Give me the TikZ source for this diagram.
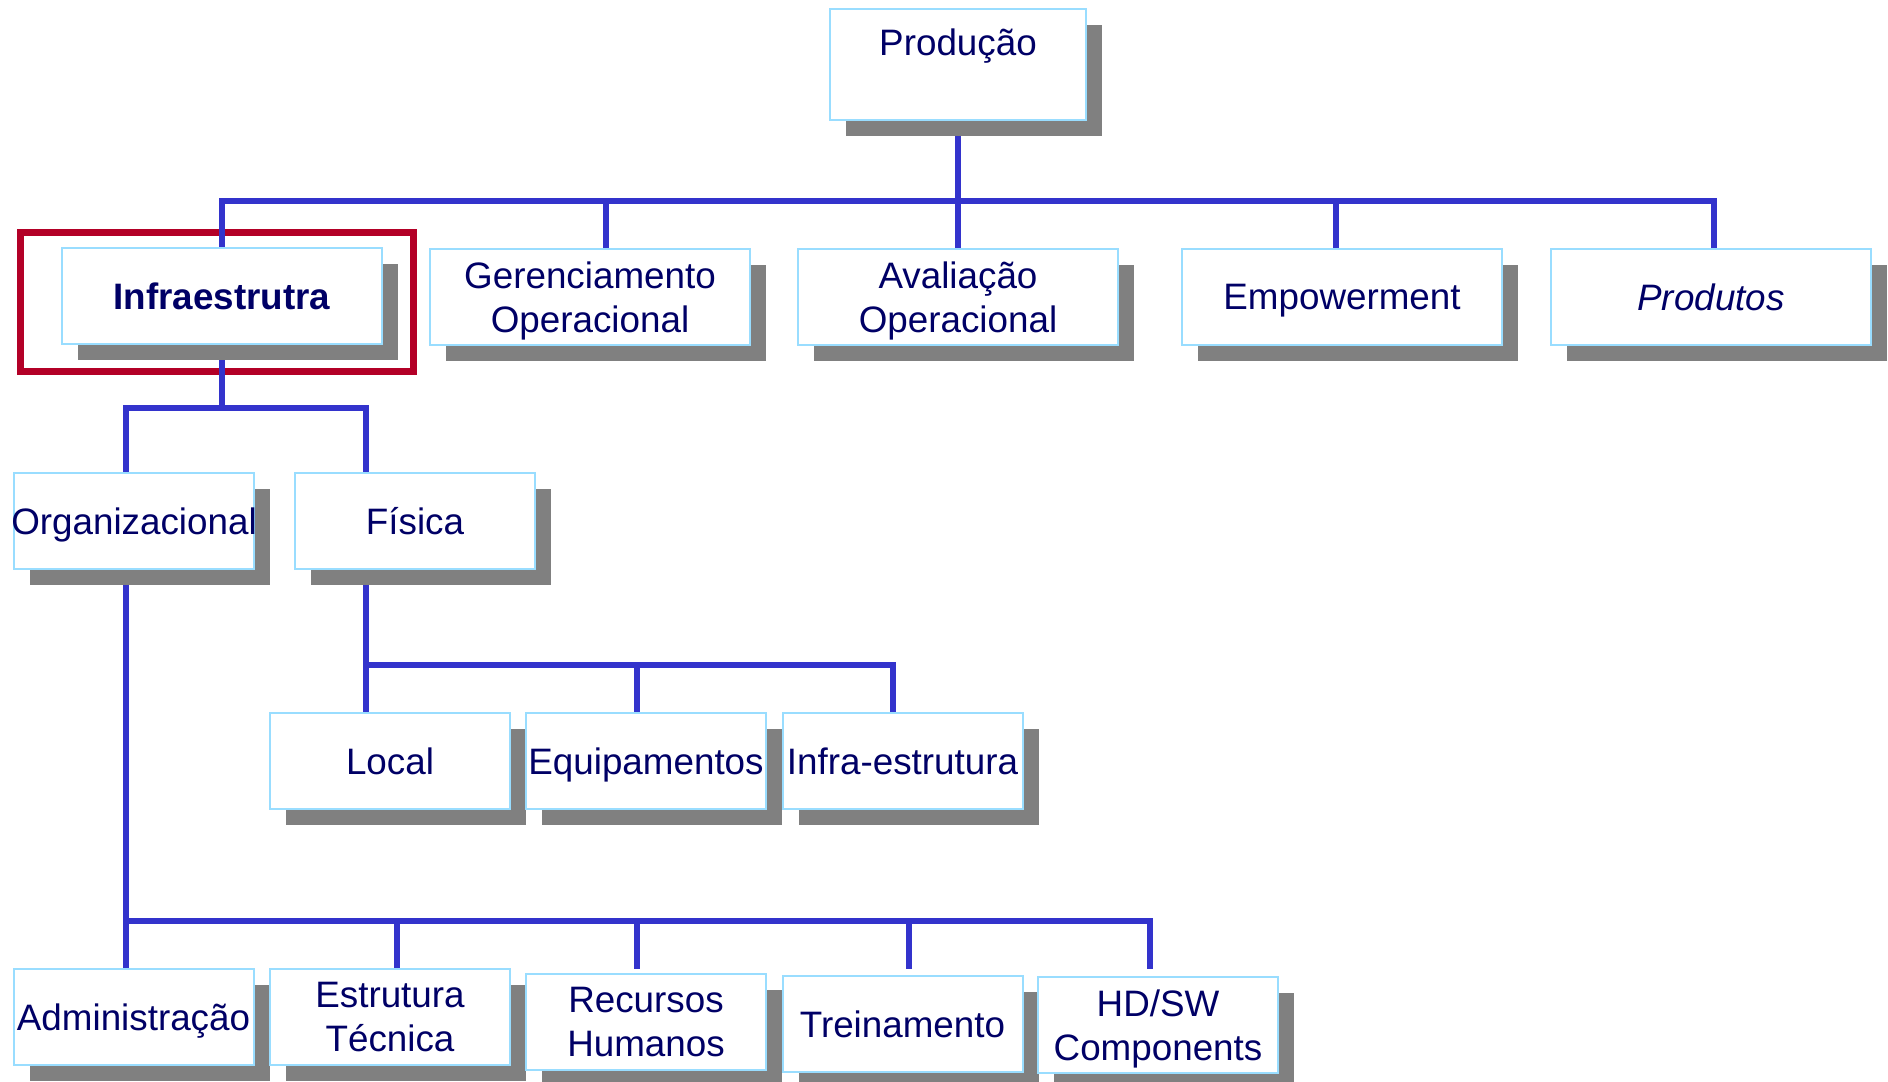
\documentclass[tikz,border=0pt]{standalone}
\usepackage{fontspec}
\setmainfont{Liberation Sans}
\usetikzlibrary{shadows,calc}
\definecolor{navy}{HTML}{000066}
\definecolor{bordercol}{HTML}{99DDFF}
\definecolor{linecol}{HTML}{3333CC}
\definecolor{shadowgray}{HTML}{808080}
\definecolor{hlred}{HTML}{B30027}
\pgfdeclarelayer{background}
\pgfsetlayers{background,main}
\newcommand\boxfont{\fontsize{18.4}{22}\selectfont}
\newcommand\upstrut{\rule{0pt}{0.93em}}
\begin{document}
\begin{tikzpicture}[x=0.5pt,y=-0.5pt,
  box/.style={draw=bordercol, line width=1pt, fill=white, inner sep=0pt,
    align=center, text=navy, font=\boxfont,
    drop shadow={shadow xshift=8pt, shadow yshift=-8pt, fill=shadowgray, opacity=1}},
  wide/.style={box, minimum width=160pt, minimum height=48pt, text width=160pt},
  narrow/.style={box, minimum width=120pt, minimum height=48pt, text width=120pt},
  single/.style={text depth=0pt},
  conn/.style={draw=linecol, line width=2.8pt},
  hl/.style={draw=hlred, line width=3.4pt, inner sep=0pt}]
\useasboundingbox (0,0) rectangle (1888,1081);

% nodes
\node[box, minimum width=128pt, minimum height=55.5pt, text width=128pt] (prod) at (958,64.5) {Produção\\\mbox{}};
\node[wide, single, font=\boxfont\bfseries] (infra) at (222,296) {Infraestrutra};
\node[wide] (ger) at (590,297) {\upstrut Gerenciamento\\Operacional};
\node[wide] (aval) at (958,297) {\upstrut Avaliação\\Operacional};
\node[wide, single] (emp) at (1342,297) {Empowerment};
\node[wide, single, font=\boxfont\itshape] (prods) at (1711,297) {Produtos};

\node[narrow, single] (org) at (134,521) {\makebox[0pt]{Organizacional}};
\node[narrow, single] (fis) at (415,521) {Física};

\node[narrow, single] (local) at (390,761) {Local};
\node[narrow, single] (equip) at (646,761) {Equipamentos};
\node[narrow, single] (infes) at (902.5,761) {Infra-estrutura};

\node[narrow, single] (adm) at (133.5,1017) {Administração};
\node[narrow] (est) at (390,1017) {Estrutura\\Técnica};
\node[narrow] (rh) at (646,1022) {Recursos\\Humanos};
\node[narrow, single] (trein) at (902.5,1024) {Treinamento};
\node[narrow] (hdsw) at (1158,1025) {\upstrut HD/SW\\Components};

\begin{pgfonlayer}{background}
\node[hl, minimum width=196.5pt, minimum height=69.5pt] (hlbox) at (217,302) {};

\coordinate (bar0) at (0,201);
\coordinate (bar1) at (0,408);
\coordinate (bar2) at (0,665);
\coordinate (bar3) at (0,921);
\coordinate (tickend) at (0,969);
\coordinate (topend) at (0,249);

\path ($(ger.north)+(16,0)$) coordinate (tg)
      ($(aval.north)+(0,0)$) coordinate (tv)
      ($(emp.north)+(-6,0)$) coordinate (te)
      ($(prods.north)+(3,0)$) coordinate (tp)
      ($(org.north)+(-8,0)$) coordinate (to)
      ($(fis.north)+(-49,0)$) coordinate (tf)
      ($(local.north)+(-24,0)$) coordinate (tl)
      ($(equip.north)+(-9,0)$) coordinate (teq)
      ($(infes.north)+(-9.5,0)$) coordinate (ti)
      ($(adm.north)+(-7.5,0)$) coordinate (ta)
      ($(est.north)+(7,0)$) coordinate (tes)
      ($(rh.north)+(-9,0)$) coordinate (trh)
      ($(trein.north)+(6.5,0)$) coordinate (ttr)
      ($(hdsw.north)+(-8,0)$) coordinate (th);

% level 1
\draw[conn] (prod.south) -- (prod.south |- bar0);
\draw[conn] (infra.north) -- (infra.north |- bar0) -- (tp |- bar0) -- (tp |- topend);
\draw[conn] (tg |- bar0) -- (tg |- topend);
\draw[conn] (tv |- bar0) -- (tv |- topend);
\draw[conn] (te |- bar0) -- (te |- topend);

% level 2
\draw[conn] (infra.south) -- (infra.south |- bar1);
\draw[conn] (to) -- (to |- bar1) -- (tf |- bar1) -- (tf);

% Fisica branch
\draw[conn] (fis.south -| tl) -- (tl);
\draw[conn] (tl |- bar2) -- (ti |- bar2) -- (ti);
\draw[conn] (teq |- bar2) -- (teq);

% Organizacional branch
\draw[conn] (org.south -| ta) -- (ta);
\draw[conn] (ta |- bar3) -- (th |- bar3) -- (th |- tickend);
\draw[conn] (tes |- bar3) -- (tes |- tickend);
\draw[conn] (trh |- bar3) -- (trh |- tickend);
\draw[conn] (ttr |- bar3) -- (ttr |- tickend);
\end{pgfonlayer}
\end{tikzpicture}
\end{document}
